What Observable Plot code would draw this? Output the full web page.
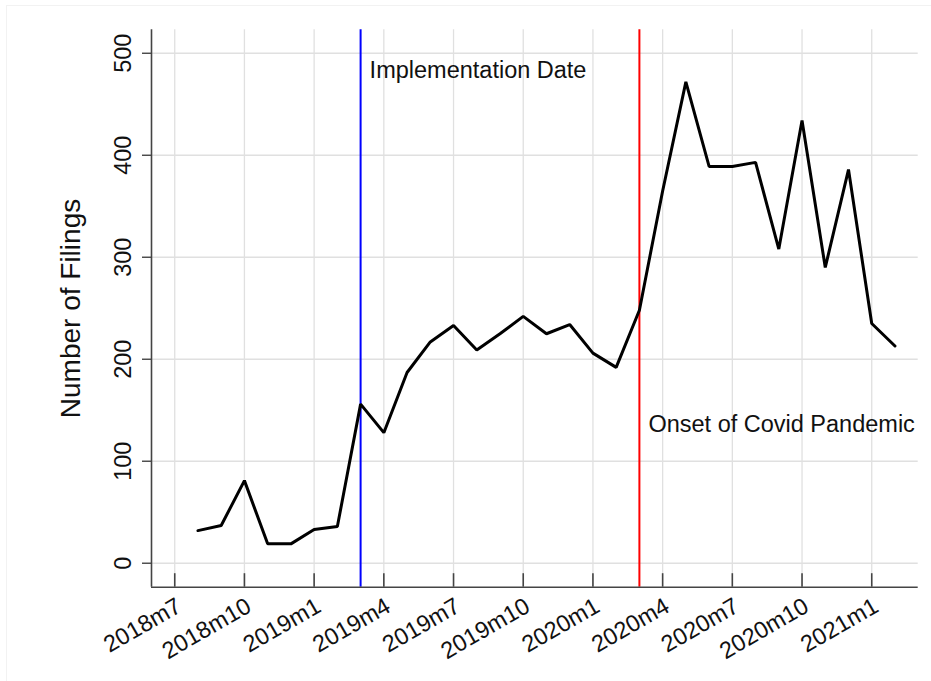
<!DOCTYPE html>
<html>
<head>
<meta charset="utf-8">
<script src="https://cdn.jsdelivr.net/npm/d3@7"></script>
<script src="https://cdn.jsdelivr.net/npm/@observablehq/plot@0.6"></script>
<style>
  html, body { margin: 0; padding: 0; background: #fff; }
  #wrap { position: relative; width: 931px; height: 681px; }
  #edge { position: absolute; left: 6px; top: 5px; width: 925px; height: 676px;
          border-left: 1px solid #f2f2f2; border-top: 1px solid #f2f2f2; pointer-events: none; }
  svg { display: block; }
</style>
</head>
<body>
<div id="wrap"><div id="edge"></div></div>
<script>
// ---- data ----
const months = ["2018m8","2018m9","2018m10","2018m11","2018m12","2019m1","2019m2","2019m3","2019m4","2019m5",
  "2019m6","2019m7","2019m8","2019m9","2019m10","2019m11","2019m12","2020m1","2020m2","2020m3",
  "2020m4","2020m5","2020m6","2020m7","2020m8","2020m9","2020m10","2020m11","2020m12","2021m1","2021m2"];
const filings = [32, 37, 81, 19, 19, 33, 36, 156, 128, 187,
  217, 233, 209, 225, 242, 225, 234, 206, 192, 248,
  365, 472, 389, 389, 393, 308, 434, 290, 386, 235, 213];
const xTickLabels = ["2018m7","2018m10","2019m1","2019m4","2019m7","2019m10","2020m1","2020m4","2020m7","2020m10","2021m1"];
const yTicks = [0, 100, 200, 300, 400, 500];
const eventMonths = ["2019m3", "2020m3"];
const eventLabels = ["Implementation Date", "Onset of Covid Pandemic"];
const eventLabelValues = [476, 129];
const eventColors = ["#0000ff", "#ff0000"];

// month label -> month index (0 = 2018m7)
const idx = s => { const [y, m] = s.split("m").map(Number); return (y - 2018) * 12 + m - 7; };

const series = months.map((m, i) => ({t: idx(m), v: filings[i]}));
const xTickIdx = xTickLabels.map(idx);
const events = eventMonths.map((m, i) => ({t: idx(m), label: eventLabels[i], v: eventLabelValues[i], color: eventColors[i]}));

const xDomain = [-1, 32];
const yDomain = [-23.5, 523];
const font = "'Liberation Sans', Arial, Helvetica, sans-serif";
const axisColor = "#444";
const gridColor = "#e0e0e0";
const frameH = 681 - 29.3 - 94.3;

const chart = Plot.plot({
  width: 931,
  height: 681,
  marginLeft: 151,
  marginRight: 13.3,
  marginTop: 29.3,
  marginBottom: 94.3,
  style: {fontFamily: font, background: "transparent", color: "#111"},
  x: {type: "linear", domain: xDomain, axis: null},
  y: {type: "linear", domain: yDomain, axis: null},
  marks: [
    // grid
    Plot.ruleY(yTicks, {stroke: gridColor, strokeWidth: 1.3}),
    Plot.ruleX(xTickIdx, {stroke: gridColor, strokeWidth: 1.3}),
    // event lines
    Plot.ruleX(events, {x: "t", stroke: "color", strokeWidth: 2}),
    // data line
    Plot.line(series, {x: "t", y: "v", stroke: "#000", strokeWidth: 3, strokeLinejoin: "miter"}),
    // axis lines
    Plot.ruleX([xDomain[0]], {stroke: axisColor, strokeWidth: 1.6}),
    Plot.ruleY([yDomain[0]], {stroke: axisColor, strokeWidth: 1.6}),
    // y ticks (outward) and x ticks (pointing up)
    Plot.axisY({ticks: yTicks, tickSize: 9, tickFormat: () => "", label: null, stroke: axisColor, strokeWidth: 1.4}),
    Plot.tickX(xTickIdx, {x: d => d, insetTop: frameH - 13.5, stroke: axisColor, strokeWidth: 1.6}),
    // y tick labels
    Plot.text(yTicks, {y: d => d, text: d => String(d), frameAnchor: "left", dx: -20.5, rotate: -90,
      textAnchor: "middle", lineAnchor: "bottom", fontSize: 23.5, fill: "#111"}),
    // x tick labels
    Plot.text(xTickIdx, {x: d => d, text: (d, i) => xTickLabels[i], frameAnchor: "bottom", dy: 9, dx: 0, rotate: -30,
      textAnchor: "end", lineAnchor: "top", fontSize: 23.5, fill: "#111"}),
    // y axis title
    Plot.text(["Number of Filings"], {frameAnchor: "left", dx: -72, rotate: -90, textAnchor: "middle",
      lineAnchor: "bottom", fontSize: 28, fill: "#111"}),
    // event annotations
    Plot.text(events, {x: "t", y: "v", text: "label", dx: 9, textAnchor: "start", lineAnchor: "bottom",
      fontSize: 23.5, fill: "#111"})
  ]
});
document.getElementById("wrap").prepend(chart);
</script>
</body>
</html>
